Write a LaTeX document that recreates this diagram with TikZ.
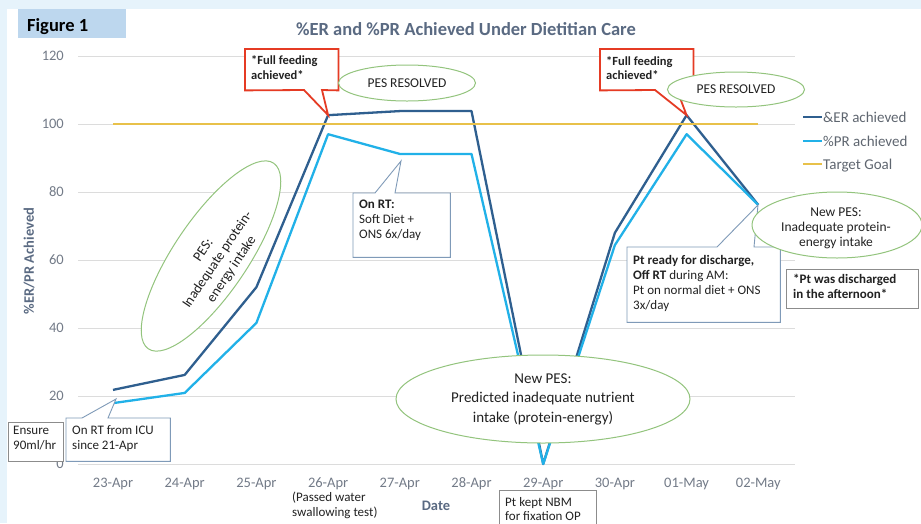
\documentclass[tikz,border=0pt]{standalone}
\usepackage{fontspec}
\setmainfont{Carlito}
\usetikzlibrary{shapes.geometric}
\definecolor{bgblue}{HTML}{E6F3FB}
\definecolor{figblue}{HTML}{BDD7EE}
\definecolor{erblue}{HTML}{2F5F8F}
\definecolor{prblue}{HTML}{21B1E8}
\definecolor{goalyellow}{HTML}{E8C14A}
\definecolor{gridgray}{HTML}{DCDCDC}
\definecolor{tickgray}{HTML}{737B88}
\definecolor{axisgray}{HTML}{5A6A82}
\definecolor{legendgray}{HTML}{5F6670}
\definecolor{callred}{HTML}{E53B24}
\definecolor{boxblue}{HTML}{7F9AB8}
\definecolor{boxgray}{HTML}{8C8C8C}
\definecolor{pesgreen}{HTML}{93C47D}
\definecolor{notetext}{HTML}{222222}
\begin{document}
\begin{tikzpicture}[x=1pt,y=-1pt,
 tick/.style={font=\fontsize{14.5}{17}\selectfont, text=tickgray, inner sep=0pt},
 gridln/.style={draw=gridgray, line width=0.8pt},
 erln/.style={draw=erblue, line width=2.3pt, line join=round},
 prln/.style={draw=prblue, line width=2.3pt, line join=round},
 goalln/.style={draw=goalyellow, line width=2.5pt},
 redcall/.style={draw=callred, line width=1.8pt, fill=white},
 bluecall/.style={draw=boxblue, line width=0.9pt, fill=white},
 graybox/.style={draw=boxgray, line width=0.9pt, fill=white},
 shapebox/.style={inner sep=0pt, anchor=north west},
 note/.style={font=\fontsize{13}{15}\selectfont, align=left, inner sep=0pt, anchor=north west, text=notetext},
 rednote/.style={note, font=\bfseries\fontsize{12.5}{14.5}\selectfont},
 pes/.style={ellipse, draw=pesgreen, line width=1pt, fill=white, inner sep=0pt, align=center, text=notetext, font=\fontsize{13.5}{16}\selectfont},
 legtext/.style={font=\fontsize{15}{18}\selectfont, text=legendgray, anchor=base west, inner sep=0pt}
]
\useasboundingbox (0,0) rectangle (921,523);
\fill[bgblue] (0,0) rectangle (921,523);
\fill[white] (7,9) rectangle (921,523);
% figure label
\node[shapebox, fill=figblue, minimum width=108pt, minimum height=29pt] (figbox) at (18,9) {};
\node[anchor=base west, inner sep=0pt, font=\bfseries\fontsize{18.5}{21}\selectfont] (figlabel) at (27,31) {Figure 1};
% title
\node[anchor=base, inner sep=0pt, text=axisgray, font=\bfseries\fontsize{18.5}{22}\selectfont] (title) at (466,35) {\%ER and \%PR Achieved Under Dietitian Care};
% grid
\foreach \v in {0,20,...,120} {
  \draw[gridln] (78,{464-3.4*\v}) -- (795,{464-3.4*\v});
  \node[tick, anchor=east] (yt\v) at (64,{464-3.4*\v}) {\v};
}
\foreach \d [count=\i from 0] in {23-Apr,24-Apr,25-Apr,26-Apr,27-Apr,28-Apr,29-Apr,30-Apr,01-May,02-May}
  \node[tick, anchor=base] (xt\i) at ({113+71.7*\i},487) {\d};
\node[rotate=90, inner sep=0pt, text=axisgray, font=\bfseries\fontsize{14.5}{17}\selectfont] (ylab) at (29,261) {\%ER/PR Achieved};
\node[anchor=base, inner sep=0pt, text=axisgray, font=\bfseries\fontsize{14.5}{17}\selectfont] (xlab) at (436,510) {Date};
% data
\begin{scope}[shift={(113,464)}, x=71.7pt, y=3.4pt]
\coordinate (e1) at (0,21.8); \coordinate (e2) at (1,26.2); \coordinate (e3) at (2,52);
\coordinate (e4) at (3,102.6); \coordinate (e5) at (4,103.8); \coordinate (e6) at (5,103.8);
\coordinate (e7) at (6,0); \coordinate (e8) at (7,68); \coordinate (e9) at (8,102.6); \coordinate (e10) at (9,76.2);
\coordinate (p1) at (0,17.9); \coordinate (p2) at (1,20.9); \coordinate (p3) at (2,41.5);
\coordinate (p4) at (3,97); \coordinate (p5) at (4,91.2); \coordinate (p6) at (5,91.2);
\coordinate (p7) at (6,0); \coordinate (p8) at (7,64.4); \coordinate (p9) at (8,97); \coordinate (p10) at (9,76.2);
\coordinate (g1) at (0,100); \coordinate (g10) at (9,100);
\end{scope}
\draw[erln] (e1) -- (e2) -- (e3) -- (e4) -- (e5) -- (e6) -- (e7) -- (e8) -- (e9) -- (e10);
\draw[prln] (p1) -- (p2) -- (p3) -- (p4) -- (p5) -- (p6) -- (p7) -- (p8) -- (p9) -- (p10);
\draw[goalln] (g1) -- (g10);
% legend
\coordinate (l1a) at (803,117); \coordinate (l1b) at (822,117);
\coordinate (l2a) at (803,141); \coordinate (l2b) at (822,141);
\coordinate (l3a) at (803,164); \coordinate (l3b) at (822,164);
\draw[erblue, line width=2.3pt] (l1a) -- (l1b);
\draw[prblue, line width=2.3pt] (l2a) -- (l2b);
\draw[goalyellow, line width=2.3pt] (l3a) -- (l3b);
\node[legtext] (leg1) at (823,122) {\&ER achieved};
\node[legtext] (leg2) at (823,146) {\%PR achieved};
\node[legtext] (leg3) at (823,169) {Target Goal};
% rotated PES ellipse
\node[pes, minimum width=224pt, minimum height=74pt, rotate=56] (pes1) at (211,256) {};
\node[rotate=56, align=center, inner sep=0pt, text=notetext, font=\fontsize{14}{17}\selectfont] (pes1t) at (218,260) {PES:\\Inadequate protein-\\energy intake};
% red callout 1
\node[shapebox, minimum width=93pt, minimum height=41pt] (ff1box) at (245,49) {};
\draw[redcall] (ff1box.north west) -- (ff1box.north east) -- (ff1box.south east) -- (322,90) -- (e4) -- (304,90) -- (ff1box.south west) -- cycle;
\node[rednote] (ff1text) at (251,55.5) {*Full feeding\\achieved*};
\node[pes, minimum width=137pt, minimum height=36pt] (res1) at (407,83) {PES RESOLVED};
% red callout 2
\node[shapebox, minimum width=93pt, minimum height=41pt] (ff2box) at (600,49) {};
\draw[redcall] (ff2box.north west) -- (ff2box.north east) -- (ff2box.south east) -- (677,90) -- (e9) -- (655,90) -- (ff2box.south west) -- cycle;
\node[rednote] (ff2text) at (606,56) {*Full feeding\\achieved*};
\node[pes, minimum width=137pt, minimum height=35pt] (res2) at (736,89.5) {PES RESOLVED};
% On RT callout
\coordinate (rttip) at (401,161);
\node[shapebox, minimum width=97pt, minimum height=64pt] (rtbox) at (353,193) {};
\draw[bluecall] (rtbox.north west) -- (375,193) -- (rttip) -- (395,193) -- (rtbox.north east) -- (rtbox.south east) -- (rtbox.south west) -- cycle;
\node[note] (rttext) at (359,200) {\textbf{On RT:}\\Soft Diet +\\ONS 6x/day};
% ICU callout
\coordinate (icutip) at (116,399);
\node[shapebox, minimum width=104pt, minimum height=43pt] (icubox) at (66,418) {};
\draw[bluecall] (icubox.north west) -- (82,418) -- (icutip) -- (108,418) -- (icubox.north east) -- (icubox.south east) -- (icubox.south west) -- cycle;
\node[note] (icutext) at (72,425) {On RT from ICU\\since 21-Apr};
% Ensure box
\node[shapebox, graybox, minimum width=55pt, minimum height=39pt] (ensbox) at (8,422) {};
\node[note] (enstext) at (13,426) {Ensure\\90ml/hr};
% Pt ready callout
\coordinate (drtip) at (758,205);
\node[shapebox, minimum width=153pt, minimum height=75pt] (drbox) at (627,247) {};
\draw[bluecall] (drbox.north west) -- (717,247) -- (drtip) -- (754,247) -- (drbox.north east) -- (drbox.south east) -- (drbox.south west) -- cycle;
\node[note] (drtext) at (633,255) {\textbf{Pt ready for discharge,}\\\textbf{Off RT} during AM:\\Pt on normal diet + ONS\\3x/day};
% New PES right
\node[pes, minimum width=170pt, minimum height=66pt] (pes3) at (837,225) {};
\node[align=center, inner sep=0pt, text=notetext, font=\fontsize{13.5}{15}\selectfont] (pes3t) at (836,228) {New PES:\\Inadequate protein-\\energy intake};
% discharged box
\node[shapebox, graybox, minimum width=132pt, minimum height=39pt] (disbox) at (786,269) {};
\node[note, font=\bfseries\fontsize{13}{14.5}\selectfont] (distext) at (793,274) {*Pt was discharged\\in the afternoon*};
% New PES big
\node[pes, minimum width=294pt, minimum height=88pt, font=\fontsize{15}{19.5}\selectfont] (pes2) at (543,399) {New PES:\\Predicted inadequate nutrient\\intake (protein-energy)};
% NBM box
\node[shapebox, graybox, minimum width=97pt, minimum height=45pt] (nbmbox) at (499,490) {};
\node[note, font=\fontsize{13}{14}\selectfont] (nbmtext) at (505,497) {Pt kept NBM\\for fixation OP};
% passed water
\node[note] (watertext) at (292,492) {(Passed water\\swallowing test)};
\end{tikzpicture}
\end{document}
